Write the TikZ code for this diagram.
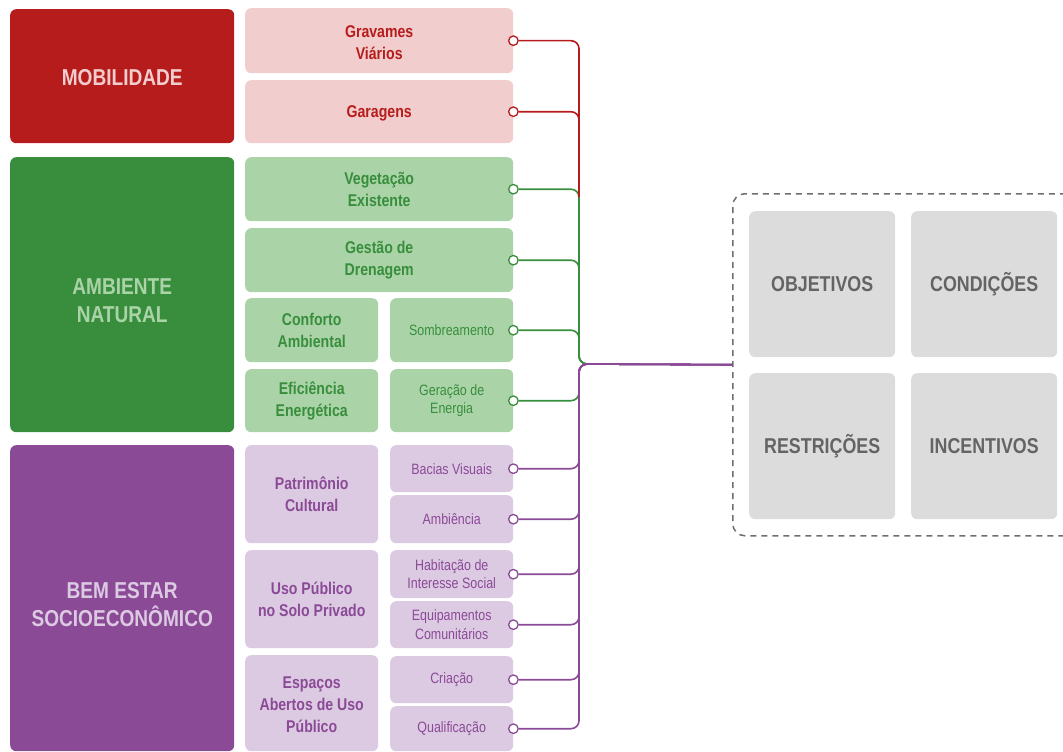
\documentclass[tikz,border=0pt]{standalone}
\usepackage{fontspec}
\setmainfont[FakeStretch=0.83]{Liberation Sans}
\usetikzlibrary{positioning}
\definecolor{Mob}{HTML}{B71C1C}
\definecolor{MobLight}{HTML}{F2CDCD}
\definecolor{Amb}{HTML}{388E3C}
\definecolor{AmbLight}{HTML}{AAD4A8}
\definecolor{Bem}{HTML}{8B4A96}
\definecolor{BemLight}{HTML}{DCCAE3}
\definecolor{Cell}{HTML}{DCDCDC}
\definecolor{CellText}{HTML}{646464}
\definecolor{Frame}{HTML}{6E6E6E}

\tikzset{
  box/.style={anchor=north west, rounded corners=6pt, inner sep=0pt, align=center},
  catbox/.style={box, minimum width=224pt, font=\bfseries\fontsize{23}{28}\selectfont},
  subbox/.style={box, font=\bfseries\fontsize{17}{22}\selectfont},
  leafbox/.style={box, minimum width=123pt, font=\fontsize{15}{18.5}\selectfont},
  cell/.style={box, fill=Cell, text=CellText, minimum width=146pt, minimum height=146pt,
    text height=15.5pt, text depth=1.5pt, font=\bfseries\fontsize{21.5}{25}\selectfont},
  dot/.style={circle, draw, fill=white, line width=1.3pt, inner sep=0pt, minimum size=9.5pt},
  wire/.style={line width=1.6pt, rounded corners=8pt},
}

\begin{document}
\begin{tikzpicture}[x=1pt,y=-1pt]
  \useasboundingbox (0,0) rectangle (1063,752);
  \clip (0,0) rectangle (1063,752);

  % mobilidade
  \node[catbox, fill=Mob, text=MobLight, minimum height=134pt] (mob) at (10,9) {\rule{0pt}{19pt}MOBILIDADE};
  \node[subbox, fill=MobLight, text=Mob, minimum width=268pt, minimum height=65pt] (grav) at (245,8) {\rule{0pt}{15pt}Gravames\\Viários};
  \node[subbox, fill=MobLight, text=Mob, minimum width=268pt, minimum height=63pt] (gar) at (245,80) {\rule{0pt}{15pt}Garagens};

  % ambiente natural
  \node[catbox, fill=Amb, text=AmbLight, minimum height=275pt] (amb) at (10,157) {\rule{0pt}{27pt}AMBIENTE\\NATURAL};
  \node[subbox, fill=AmbLight, text=Amb, minimum width=268pt, minimum height=64pt] (veg) at (245,157) {Vegetação\\Existente};
  \node[subbox, fill=AmbLight, text=Amb, minimum width=268pt, minimum height=64pt] (dren) at (245,228) {Gestão de\\Drenagem};
  \node[subbox, fill=AmbLight, text=Amb, minimum width=133pt, minimum height=64pt] (conf) at (245,298) {Conforto\\Ambiental};
  \node[leafbox, fill=AmbLight, text=Amb, minimum height=64pt] (somb) at (390,298) {Sombreamento};
  \node[subbox, fill=AmbLight, text=Amb, minimum width=133pt, minimum height=63pt] (efic) at (245,369) {Eficiência\\Energética};
  \node[leafbox, fill=AmbLight, text=Amb, minimum height=63pt] (ger) at (390,369) {Geração de\\Energia};

  % bem estar
  \node[catbox, fill=Bem, text=BemLight, minimum height=306pt] (bem) at (10,445) {\rule{0pt}{29pt}BEM ESTAR\\SOCIOECONÔMICO};
  \node[subbox, fill=BemLight, text=Bem, minimum width=133pt, minimum height=98pt] (pat) at (245,445) {Patrimônio\\Cultural};
  \node[leafbox, fill=BemLight, text=Bem, minimum height=47pt] (bac) at (390,445) {Bacias Visuais};
  \node[leafbox, fill=BemLight, text=Bem, minimum height=48pt] (ambi) at (390,495) {Ambiência};
  \node[subbox, fill=BemLight, text=Bem, minimum width=133pt, minimum height=98pt] (uso) at (245,550) {Uso Público\\no Solo Privado};
  \node[leafbox, fill=BemLight, text=Bem, minimum height=48pt] (hab) at (390,550) {Habitação de\\Interesse Social};
  \node[leafbox, fill=BemLight, text=Bem, minimum height=47pt] (equ) at (390,601) {Equipamentos\\Comunitários};
  \node[subbox, fill=BemLight, text=Bem, minimum width=133pt, minimum height=96pt] (esp) at (245,655) {\rule{0pt}{15pt}Espaços\\Abertos de Uso\\Público};
  \node[leafbox, fill=BemLight, text=Bem, minimum height=47pt] (cri) at (390,656) {Criação};
  \node[leafbox, fill=BemLight, text=Bem, minimum height=45pt] (qua) at (390,706) {Qualificação};

  % instrumentos
  \node[box, draw=Frame, line width=1.5pt, dash pattern=on 6pt off 5pt, rounded corners=12pt,
    minimum width=345pt, minimum height=342pt] (frame) at (732,193) {};
  \node[cell] (obj) at (749,211) {OBJETIVOS};
  \node[cell] (cond) at (911,211) {CONDIÇÕES};
  \node[cell] (restr) at (749,373) {RESTRIÇÕES};
  \node[cell] (inc) at (911,373) {INCENTIVOS};

  % pontos de ligacao
  \foreach \n in {grav,gar}
    \node[dot, draw=Mob] (d\n) at (\n.east) {};
  \foreach \n in {veg,dren,somb,ger}
    \node[dot, draw=Amb] (d\n) at (\n.east) {};
  \foreach \n in {bac,ambi,hab,equ,cri,qua}
    \node[dot, draw=Bem] (d\n) at (\n.east) {};

  \coordinate (hub) at (579,364);
  \coordinate (hubr) at (594,364);
  \coordinate (gerend) at (579,390);
  \coordinate (redend) at (579,197);

  % ligacoes
  \foreach \n in {veg,dren,somb}
    \draw[wire, Amb] (d\n) -| (hub) -- (hubr);
  \draw[wire, Amb] (dger) -| (gerend);
  \foreach \n in {grav,gar}
    \draw[wire, Mob] (d\n) -| (redend);
  \foreach \n in {bac,ambi,hab,equ,cri,qua}
    \draw[wire, Bem] (d\n) -| (hub) -- (frame.west);
\end{tikzpicture}
\end{document}
